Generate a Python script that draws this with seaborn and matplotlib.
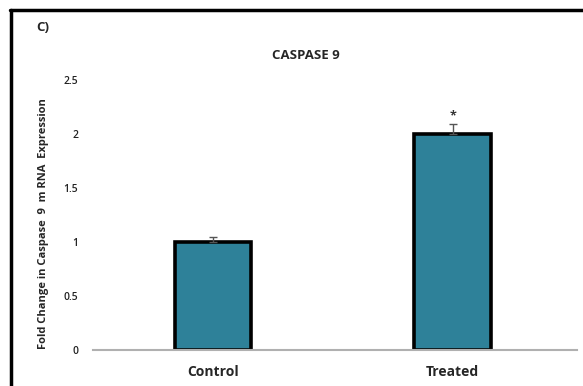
import pandas as pd
import matplotlib.pyplot as plt
import seaborn as sns
from matplotlib.lines import Line2D

# Data
groups = ["Control", "Treated"]
fold_change = [1.0, 2.0]
errors = [0.05, 0.09]
stars = ["", "*"]

df = pd.DataFrame({"Group": groups, "Fold": fold_change})

sns.set_style("white")
plt.rcParams["font.family"] = ["Open Sans", "DejaVu Sans"]

fig = plt.figure(figsize=(5.83, 3.86), dpi=100)
ax = fig.add_axes([0.16, 0.093, 0.83, 0.70])

sns.barplot(data=df, x="Group", y="Fold", color="#2E8199", width=0.32,
            edgecolor="black", linewidth=2.6, saturation=1, ax=ax)

ax.errorbar(range(len(groups)), fold_change, yerr=[[0, 0], errors],
            fmt="none", ecolor="#555555", elinewidth=1, capsize=3)
for i, s in enumerate(stars):
    if s:
        ax.text(i, fold_change[i] + errors[i] + 0.02, s, ha="center",
                va="bottom", fontsize=9, fontweight="bold", color="#333333")

ax.set_xlim(-0.5, 1.52)
ax.set_ylim(0, 2.5)
ax.set_yticks([0, 0.5, 1, 1.5, 2, 2.5])
ax.set_yticklabels(["0", "0.5", "1", "1.5", "2", "2.5"])
ax.tick_params(axis="y", length=0, labelsize=7.5, pad=11, colors="#222222")
ax.tick_params(axis="x", length=0, labelsize=10, pad=11)
for lbl in ax.get_xticklabels() + ax.get_yticklabels():
    lbl.set_fontweight("semibold")
for lbl in ax.get_xticklabels():
    lbl.set_fontweight("bold")
for s in ["left", "right", "top"]:
    ax.spines[s].set_visible(False)
ax.spines["bottom"].set_color("#b0b0b0")
ax.spines["bottom"].set_linewidth(1.5)

ax.set_xlabel("")
ax.set_ylabel("Fold Change in Caspase  9  m RNA  Expression", fontsize=8,
              fontweight="bold")
ax.yaxis.set_label_coords(-0.092, 0.47)

fig.text(0.525, 0.855, "CASPASE 9", ha="center", va="center",
         fontsize=9.5, fontweight="bold")
fig.text(0.062, 0.928, "C)", ha="left", va="center", fontsize=9.5,
         fontweight="bold")

# outer frame (left and top edges)
fig.add_artist(Line2D([0.019, 0.019], [0, 0.975], color="black", lw=2.5))
fig.add_artist(Line2D([0.017, 1.0], [0.975, 0.975], color="black", lw=2.5))

fig.savefig("out.png", dpi=100)
